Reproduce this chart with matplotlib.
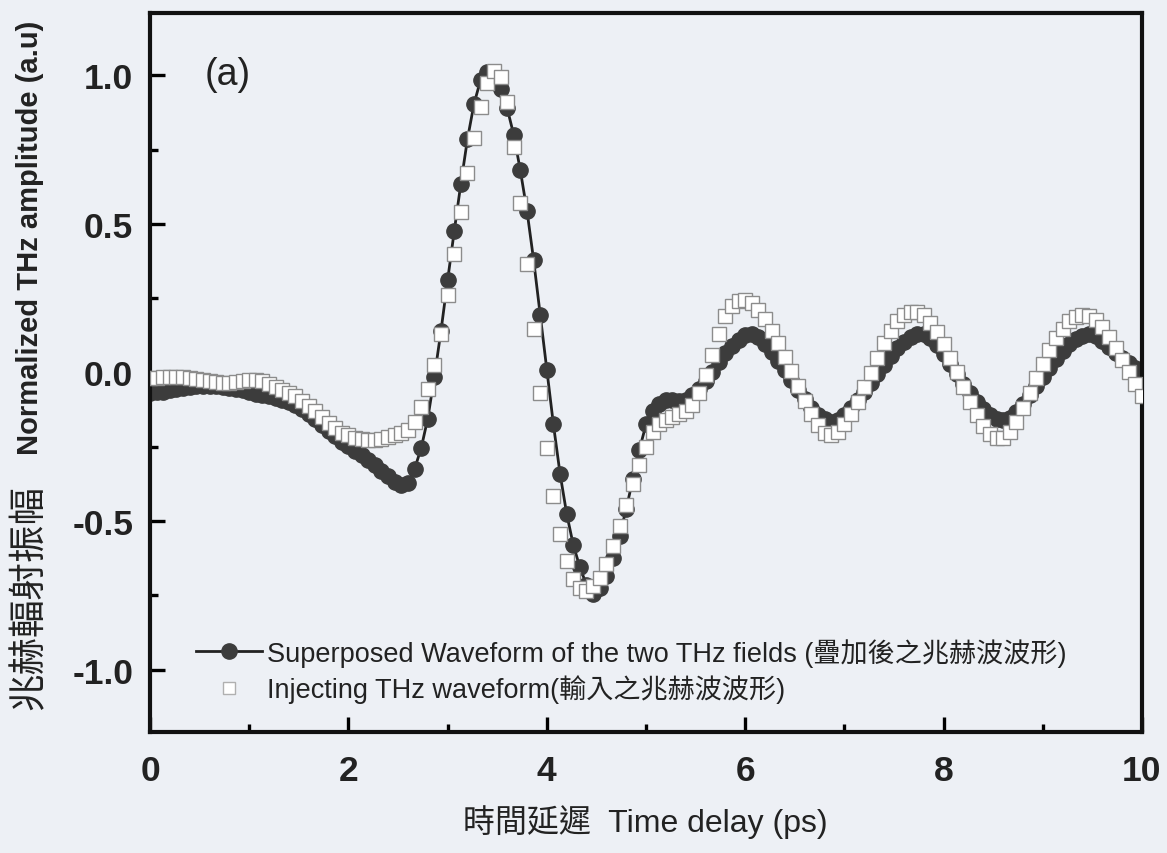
#===============================================================================
# THz waveform comparison, panel (a)
#===============================================================================
import numpy as np
import matplotlib
matplotlib.use("Agg")
import matplotlib.pyplot as plt
from matplotlib.ticker import MultipleLocator

#===============================================================================
# Data (read off the scanned figure, sampled every 1/15 ps)
#===============================================================================
n_samples = 151
step_ps = 1.0 / 15.0

superposed = [
    -0.070, -0.067, -0.064, -0.060, -0.056, -0.052, -0.049, -0.046, -0.045, -0.045,
    -0.046, -0.048, -0.051, -0.055, -0.060, -0.066, -0.071, -0.076, -0.080, -0.085,
    -0.091, -0.099, -0.109, -0.122, -0.138, -0.156, -0.176, -0.196, -0.215, -0.233,
    -0.249, -0.263, -0.278, -0.294, -0.312, -0.332, -0.350, -0.367, -0.380, -0.372,
    -0.325, -0.255, -0.155, -0.015, 0.140, 0.310, 0.475, 0.635, 0.785, 0.905,
    0.985, 1.010, 0.990, 0.955, 0.890, 0.800, 0.680, 0.545, 0.380, 0.195,
    0.010, -0.175, -0.340, -0.475, -0.580, -0.655, -0.715, -0.745, -0.725, -0.685,
    -0.625, -0.550, -0.460, -0.360, -0.260, -0.175, -0.128, -0.105, -0.092, -0.092,
    -0.097, -0.092, -0.077, -0.055, -0.028, 0.002, 0.035, 0.065, 0.090, 0.110,
    0.125, 0.130, 0.118, 0.095, 0.068, 0.038, 0.008, -0.025, -0.058, -0.090,
    -0.118, -0.142, -0.158, -0.165, -0.160, -0.143, -0.118, -0.092, -0.065, -0.035,
    -0.005, 0.025, 0.055, 0.082, 0.104, 0.120, 0.129, 0.128, 0.115, 0.092,
    0.062, 0.030, -0.004, -0.038, -0.070, -0.098, -0.122, -0.142, -0.155, -0.160,
    -0.152, -0.133, -0.106, -0.076, -0.045, -0.015, 0.015, 0.045, 0.072, 0.095,
    0.112, 0.124, 0.129, 0.122, 0.105, 0.085, 0.066, 0.048, 0.032, 0.015,
    0.000,
]

injecting = [
    -0.020, -0.018, -0.016, -0.015, -0.015, -0.016, -0.018, -0.021, -0.025, -0.029,
    -0.032, -0.034, -0.034, -0.032, -0.029, -0.026, -0.026, -0.030, -0.038, -0.048,
    -0.058, -0.068, -0.080, -0.095, -0.112, -0.130, -0.150, -0.170, -0.188, -0.202,
    -0.212, -0.220, -0.225, -0.228, -0.228, -0.224, -0.218, -0.212, -0.205, -0.195,
    -0.165, -0.115, -0.055, 0.025, 0.130, 0.260, 0.400, 0.540, 0.670, 0.790,
    0.895, 0.975, 1.015, 0.995, 0.910, 0.760, 0.570, 0.365, 0.145, -0.070,
    -0.255, -0.415, -0.545, -0.635, -0.695, -0.725, -0.735, -0.720, -0.690, -0.645,
    -0.585, -0.515, -0.445, -0.375, -0.310, -0.250, -0.200, -0.172, -0.160, -0.150,
    -0.140, -0.128, -0.110, -0.070, -0.010, 0.060, 0.130, 0.190, 0.225, 0.242,
    0.245, 0.235, 0.212, 0.180, 0.140, 0.098, 0.052, 0.005, -0.045, -0.095,
    -0.140, -0.178, -0.202, -0.210, -0.200, -0.175, -0.140, -0.098, -0.050, 0.000,
    0.050, 0.098, 0.140, 0.172, 0.193, 0.204, 0.205, 0.192, 0.168, 0.135,
    0.095, 0.050, 0.002, -0.048, -0.098, -0.142, -0.180, -0.207, -0.222, -0.220,
    -0.200, -0.165, -0.120, -0.070, -0.020, 0.030, 0.075, 0.115, 0.148, 0.172,
    0.186, 0.192, 0.190, 0.176, 0.152, 0.120, 0.082, 0.042, 0.002, -0.040,
    -0.080,
]

time_ps = np.arange(n_samples) * step_ps

label_sup = "Superposed Waveform of the two THz fields (疊加後之兆赫波波形)"
label_inj = "Injecting THz waveform(輸入之兆赫波波形)"
xlabel_txt = "時間延遲  Time delay (ps)"
ylabel_en = "Normalized THz amplitude (a.u)"
ylabel_zh = "兆赫輻射振幅"

#===============================================================================
# Plot
#===============================================================================
FONTS = ["Liberation Sans", "Noto Sans CJK TC", "DejaVu Sans"]
plt.rcParams["font.family"] = FONTS
bg = "#edf0f5"

fig = plt.figure(figsize=(11.67, 8.54), dpi=100, facecolor=bg)
ax = fig.add_axes([150 / 1167, 1 - 733 / 854, 992 / 1167, 719 / 854])
ax.set_facecolor(bg)

ax.plot(time_ps, superposed, "-", color="#222222", lw=2.0,
        marker="o", ms=11, mfc="#3c3c3c", mec="#3c3c3c", label=label_sup, zorder=2)
ax.plot(time_ps, injecting, ls="none", marker="s", ms=9.5,
        mfc="white", mec="#8c8c8c", mew=1.0, label=label_inj, zorder=3)

ax.set_xlim(0, 10)
ax.set_ylim(-1.21, 1.21)
ax.xaxis.set_major_locator(MultipleLocator(2))
ax.xaxis.set_minor_locator(MultipleLocator(1))
ax.yaxis.set_major_locator(MultipleLocator(0.5))
ax.yaxis.set_minor_locator(MultipleLocator(0.25))
ax.yaxis.set_major_formatter(matplotlib.ticker.FormatStrFormatter("%.1f"))

ax.tick_params(which="both", direction="in", top=False, right=False, color="black")
ax.tick_params(which="major", length=11, width=2.4)
ax.tick_params(which="minor", length=6, width=2.4)
ax.tick_params(axis="x", which="major", pad=16, labelsize=25.5)
ax.tick_params(axis="y", which="major", pad=12, labelsize=25.5)
for lab in ax.get_xticklabels() + ax.get_yticklabels():
    lab.set_fontweight("bold")
    lab.set_color("#222222")
for sp in ax.spines.values():
    sp.set_linewidth(3.0)
    sp.set_color("#111111")

ax.text(0.055, 0.915, "(a)", transform=ax.transAxes, fontsize=27,
        color="#222222", ha="left", va="center")

leg = ax.legend(loc="lower left", bbox_to_anchor=(0.035, 0.025), frameon=False,
                fontsize=19.5, handlelength=2.45, handletextpad=0.2,
                labelspacing=0.28, borderaxespad=0)
for txt in leg.get_texts():
    txt.set_color("#222222")
leg.legend_handles[1].set_markersize(8)
leg.legend_handles[1].set_markeredgecolor("#b0b0b0")

fig.text(645 / 1167, 1 - 822 / 854, xlabel_txt, fontsize=23, color="#222222",
         ha="center", va="center")
fig.text(30 / 1167, 1 - 238 / 854, ylabel_en, fontsize=21, fontweight="bold",
         color="#222222", rotation=90, ha="center", va="center")
fig.text(30 / 1167, 1 - 598 / 854, ylabel_zh, fontsize=27, color="#222222",
         rotation=90, ha="center", va="center")

fig.savefig("out.png", dpi=100, facecolor=bg)
